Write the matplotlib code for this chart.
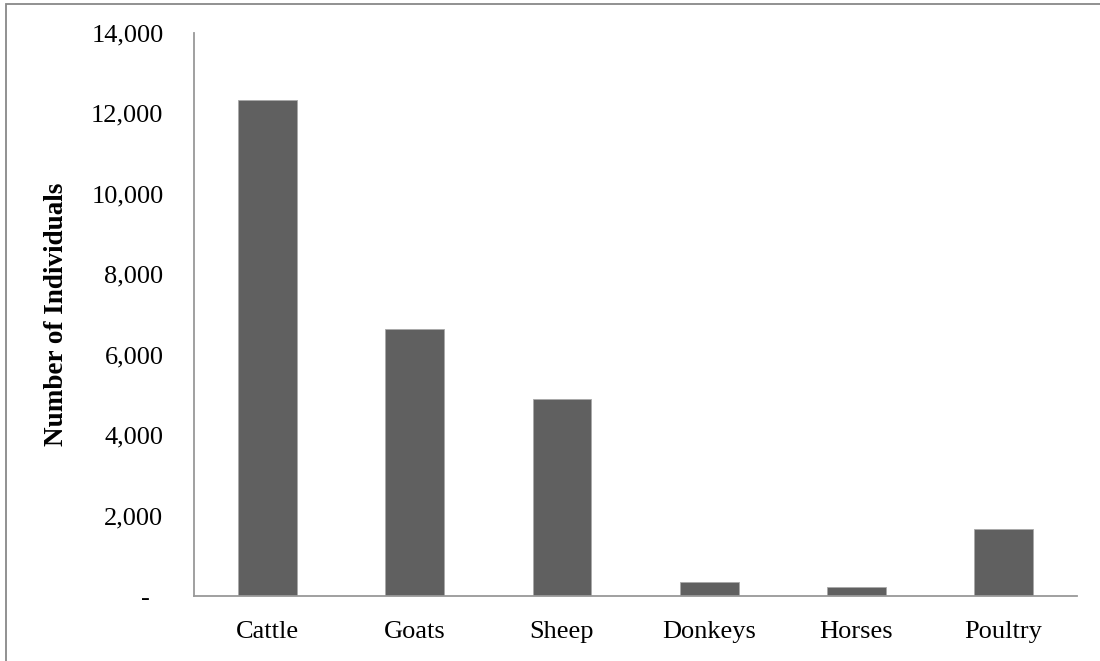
import matplotlib.pyplot as plt
from matplotlib.patches import Rectangle
from matplotlib.ticker import FuncFormatter

categories = ['Cattle', 'Goats', 'Sheep', 'Donkeys', 'Horses', 'Poultry']
counts = [12330, 6630, 4890, 360, 225, 1660]
yticks = [0, 2000, 4000, 6000, 8000, 10000, 12000, 14000]


def fmt(v, pos):
    if v == 0:
        return '-  '
    return '{:,.0f}'.format(v)


def main():
    plt.rcParams['font.family'] = ['Liberation Serif', 'DejaVu Serif']
    fig = plt.figure(figsize=(11, 6.61), dpi=100)
    ax = fig.add_axes([0.1764, 0.0983, 0.8027, 0.8518])

    x = range(len(categories))
    ax.bar(x, counts, width=0.4, color='#606060', edgecolor='#a8a8a8',
           linewidth=0.6)
    ax.set_xlim(-0.5, len(categories) - 0.5)
    ax.set_ylim(0, 14000)
    ax.set_xticks(list(x))
    ax.set_xticklabels(categories, fontsize=19)
    ax.set_yticks(yticks)
    ax.yaxis.set_major_formatter(FuncFormatter(fmt))
    ax.tick_params(axis='y', length=0, pad=22, labelsize=19)
    ax.tick_params(axis='x', length=0, pad=18)
    ax.set_ylabel('Number of Individuals', fontsize=19.5, fontweight='bold',
                  labelpad=16)

    for s in ['top', 'right']:
        ax.spines[s].set_visible(False)
    for s in ['left', 'bottom']:
        ax.spines[s].set_color('#999999')
        ax.spines[s].set_linewidth(1.3)

    # outer chart border (right/bottom edges fall outside the picture)
    fig.patches.append(Rectangle((6 / 1100, -0.1), 1.2, 1 - 4 / 661 + 0.1,
                                 transform=fig.transFigure, fill=False,
                                 edgecolor='#888888', linewidth=1.3))

    fig.savefig('out.png', dpi=100)


if __name__ == '__main__':
    main()
